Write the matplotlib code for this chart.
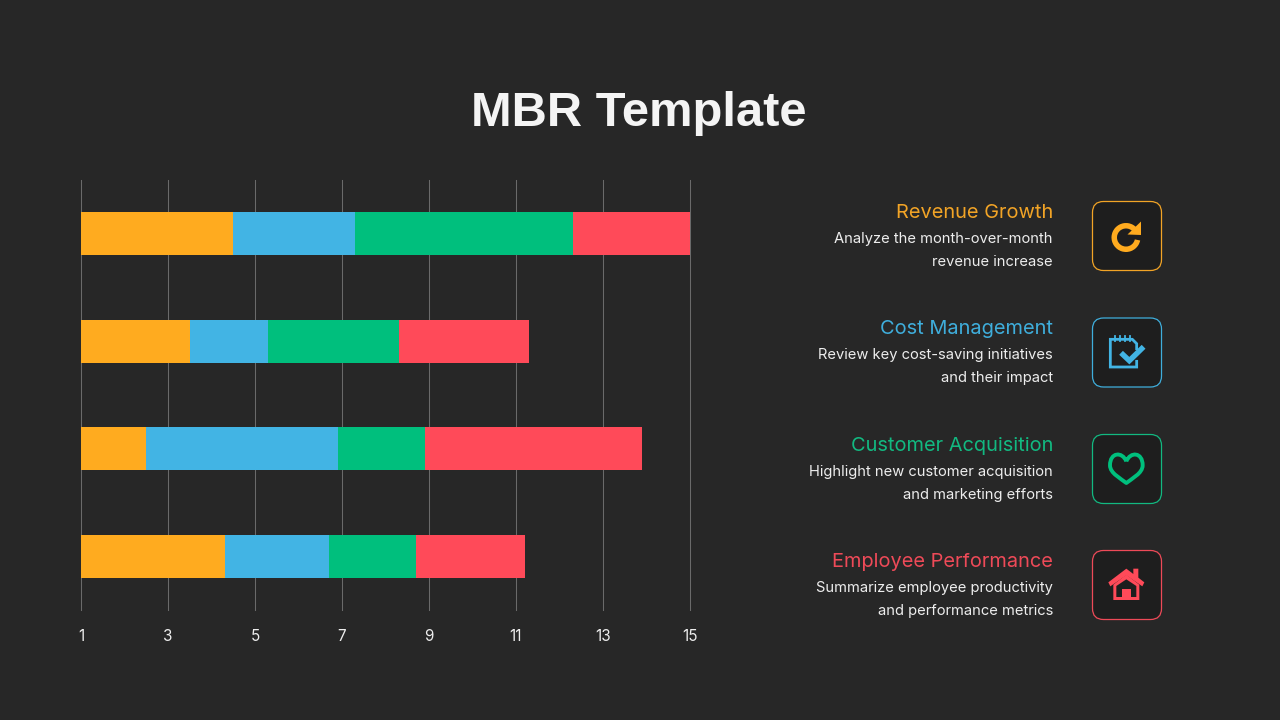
import matplotlib
matplotlib.use("Agg")
import matplotlib.pyplot as plt
import numpy as np
from matplotlib.patches import FancyBboxPatch, PathPatch, Polygon, Rectangle, Wedge
from matplotlib.path import Path

# ---- data ----
title = "MBR Template"
rows = ["Row 1", "Row 2", "Row 3", "Row 4"]
orange_vals = [4.5, 3.5, 2.5, 4.3]
blue_vals = [2.8, 1.8, 4.4, 2.4]
green_vals = [5.0, 3.0, 2.0, 2.0]
red_vals = [2.8, 3.0, 5.0, 2.5]
x_ticks = [1, 3, 5, 7, 9, 11, 13, 15]

headings = ["Revenue Growth", "Cost Management", "Customer Acquisition", "Employee Performance"]
line1 = ["Analyze the month-over-month", "Review key cost-saving initiatives",
         "Highlight new customer acquisition", "Summarize employee productivity"]
line2 = ["revenue increase", "and their impact", "and marketing efforts", "and performance metrics"]

BG = "#272727"
CARD = "#1e1e1e"
bar_colors = ["#FFAB1F", "#42B4E4", "#00BF7D", "#FF4A59"]
text_colors = ["#F2A426", "#3FAEDC", "#12B981", "#EE4A58"]
FONT = "Inter"

W, H = 1280, 720
fig = plt.figure(figsize=(12.8, 7.2), dpi=100, facecolor=BG)

# ---- chart ----
ax = fig.add_axes([81 / W, 1 - 610 / H, (690 - 81) / W, (610 - 180) / H], facecolor=BG)
y = np.arange(len(rows))
left = np.zeros(len(rows))
for vals, c in zip([orange_vals, blue_vals, green_vals, red_vals], bar_colors):
    ax.barh(y, vals, left=left, height=0.4, color=c, linewidth=0, zorder=3)
    left = left + np.array(vals)
ax.set_xlim(1, 15)
ax.set_ylim(3.5, -0.5)
ax.set_yticks([])
ax.set_xticks(x_ticks)
ax.set_xticklabels([str(t) for t in x_ticks], fontsize=11, color="#EDEDED", family=FONT)
ax.tick_params(axis="x", length=0, pad=13.5)
ax.grid(axis="x", color="#6A6A6A", linewidth=0.75, zorder=0)
for gl in ax.get_xgridlines():
    gl.set_clip_on(False)
for s in ax.spines.values():
    s.set_visible(False)

# ---- overlay in pixel coordinates ----
ov = fig.add_axes([0, 0, 1, 1], facecolor="none")
ov.set_xlim(0, W)
ov.set_ylim(H, 0)
ov.axis("off")

ov.text(639, 114, title, ha="center", va="center", fontsize=35.2, fontweight="bold",
        color="#F4F4F4", family="Liberation Sans")

head_y = [212.5, 329, 446, 562]
l1_y = [239, 355, 472, 588]
l2_y = [262, 378, 495, 611]
card_top = [201.5, 318, 434.5, 550.5]
for i in range(4):
    ov.text(1053, head_y[i], headings[i], ha="right", va="center", fontsize=14.4,
            color=text_colors[i], family=FONT)
    ov.text(1053, l1_y[i], line1[i], ha="right", va="center", fontsize=10.6,
            color="#EDEDED", family=FONT)
    ov.text(1053, l2_y[i], line2[i], ha="right", va="center", fontsize=10.6,
            color="#EDEDED", family=FONT)
    ov.add_patch(FancyBboxPatch((1092.5 + 10, card_top[i] + 10), 69 - 20, 69 - 20,
                                boxstyle="round,pad=10,rounding_size=11",
                                fc=CARD, ec=text_colors[i], lw=0.9))

# refresh icon
c = bar_colors[0]
ov.add_patch(Wedge((1126, 237.5), 14.5, 12, 318, width=5.5, fc=c, ec="none"))
ov.add_patch(Polygon([(1141, 221.5), (1141, 235), (1127.5, 234.5)], fc=c, ec="none"))

# checklist icon
c = bar_colors[1]
ox, oy = 1085, 312
def P(pts):
    return [(ox + a / 3, oy + b / 3) for a, b in pts]
ov.plot(*zip(*P([(155, 110), (155, 95), (142, 82), (76, 82), (76, 165), (155, 165), (155, 148)])),
        color=c, lw=2.0, solid_joinstyle="miter")
for xx in [90, 105, 120, 135]:
    ov.plot(*zip(*P([(xx, 71), (xx, 88)])), color=c, lw=1.3)
ov.plot(*zip(*P([(114, 128), (133, 146), (170, 110)])), color=c, lw=3.9, solid_joinstyle="miter")

# heart icon
c = bar_colors[2]
ox, oy = 1085, 428
hl = [(124, 100), (112, 70), (75, 72), (75, 112), (75, 136), (108, 152), (124, 165)]
hr = [(248 - a, b) for a, b in hl[-2::-1]]
codes = [Path.MOVETO] + [Path.CURVE4] * 12
ov.add_patch(PathPatch(Path(P(hl + hr), codes), fc="none", ec=c, lw=2.8, joinstyle="round"))

# house icon
c = bar_colors[3]
ox, oy = 1085, 544
ov.add_patch(Polygon(P([(70, 115), (124, 74), (145, 90), (145, 74), (160, 74), (160, 101), (178, 115),
                        (172, 127), (124, 94), (76, 127)]), fc=c, ec="none"))
ov.add_patch(Polygon(P([(85, 122), (124, 92), (163, 122), (163, 168), (85, 168)]),
                     fc=c, ec="none"))
ov.add_patch(Polygon(P([(94, 126), (124, 106), (154, 126), (154, 159), (94, 159)]),
                     fc=CARD, ec="none"))
ov.add_patch(Rectangle((ox + 110 / 3, oy + 135 / 3), 27 / 3, 33 / 3, fc=c, ec="none"))

fig.savefig("out.png", dpi=100, facecolor=BG)
